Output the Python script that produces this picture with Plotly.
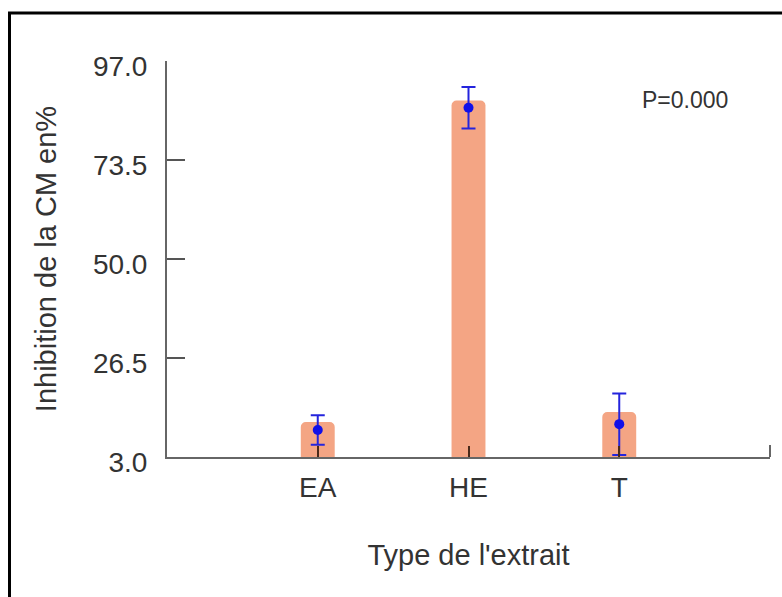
import plotly.graph_objects as go

# Extract types and measured inhibition of the CM (%)
categories = ["EA", "HE", "T"]
bar_heights = [11.3, 87.6, 13.7]
means = [9.4, 85.9, 10.8]
errors = [3.5, 4.9, 7.3]
y_ticks = [3.0, 26.5, 50.0, 73.5, 97.0]
p_label = "P=0.000"

W, H = 782, 597
L, R, T, B = 167, 12, 61, 140
plot_w = W - L - R
plot_h = H - T - B


def px_x(px):
    return (px - L) / plot_w


def px_y(py):
    return (H - B - py) / plot_h


FAMILY = "Liberation Sans, Arial, sans-serif"
tick_font = dict(family=FAMILY, size=28, color="#333333")
title_font = dict(family=FAMILY, size=29, color="#333333")

fig = go.Figure()

fig.add_trace(go.Bar(
    x=categories,
    y=bar_heights,
    width=0.225,
    marker=dict(color="#F4A584", line=dict(width=0)),
    hoverinfo="skip",
))

fig.add_trace(go.Scatter(
    x=categories,
    y=means,
    mode="markers",
    marker=dict(color="#1010E8", size=10),
    error_y=dict(type="data", array=errors, visible=True,
                 color="#2424DD", thickness=2, width=7),
))

fig.update_layout(
    width=W, height=H,
    margin=dict(l=L, r=R, t=T, b=B),
    paper_bgcolor="white",
    plot_bgcolor="white",
    showlegend=False,
    barcornerradius=5,
    font=tick_font,
    xaxis=dict(
        type="category",
        range=[-1, 3],
        showgrid=False,
        zeroline=False,
        showline=True,
        linecolor="#666666",
        linewidth=2,
        ticks="inside",
        ticklen=11,
        tickwidth=2,
        tickcolor="#4a2a1a",
        tickfont=tick_font,
        ticklabelstandoff=4,
        title=dict(text="Type de l'extrait", font=title_font, standoff=43),
    ),
    yaxis=dict(
        range=[3, 97],
        tickvals=y_ticks,
        ticktext=[f"{v:.1f}" for v in y_ticks],
        showgrid=False,
        zeroline=False,
        showline=True,
        linecolor="#666666",
        linewidth=2,
        ticks="inside",
        ticklen=18,
        tickwidth=2,
        tickcolor="#555555",
        tickfont=tick_font,
        ticklabelstandoff=12,
        ticklabelshift=5,
        title=dict(text="Inhibition de la CM en%", font=title_font, standoff=28),
    ),
    shapes=[
        # upturned end of the category axis
        dict(type="line", xref="x domain", yref="y domain",
             x0=1, x1=1, y0=0, y1=0.03,
             line=dict(color="#666666", width=2)),
        # outer frame: top and left edges
        dict(type="line", xref="paper", yref="paper",
             x0=px_x(8), x1=px_x(790), y0=px_y(13), y1=px_y(13),
             line=dict(color="black", width=3)),
        dict(type="line", xref="paper", yref="paper",
             x0=px_x(9.5), x1=px_x(9.5), y0=px_y(12), y1=px_y(605),
             line=dict(color="black", width=3)),
    ],
    annotations=[
        dict(text=p_label, xref="paper", yref="paper",
             x=px_x(685), y=px_y(100), showarrow=False,
             xanchor="center", yanchor="middle",
             font=dict(family=FAMILY, size=23, color="#333333")),
    ],
)

fig.write_html("out.html")
